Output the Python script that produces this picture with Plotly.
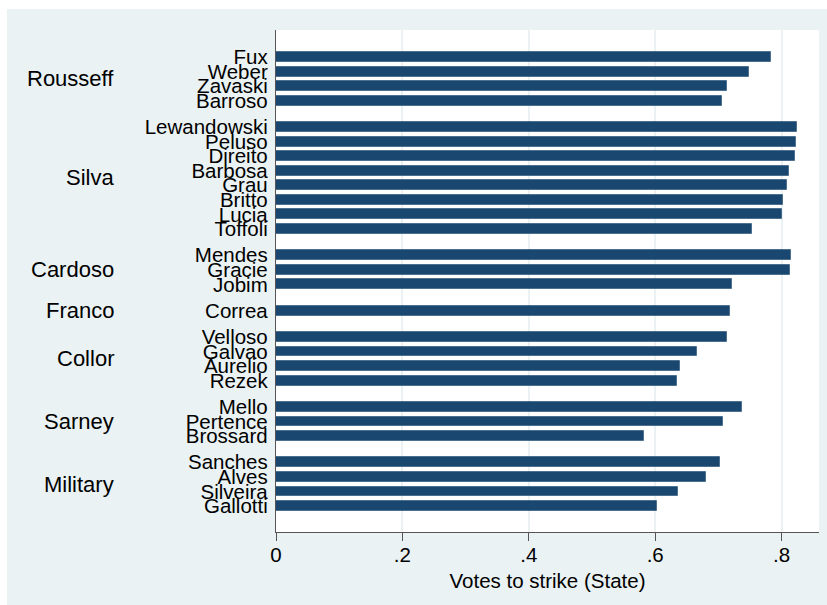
import plotly.graph_objects as go

# ---- data ----
presidents = ["Rousseff", "Rousseff", "Rousseff", "Rousseff",
              "Silva", "Silva", "Silva", "Silva", "Silva", "Silva", "Silva", "Silva",
              "Cardoso", "Cardoso", "Cardoso",
              "Franco",
              "Collor", "Collor", "Collor", "Collor",
              "Sarney", "Sarney", "Sarney",
              "Military", "Military", "Military", "Military"]
justices = ["Fux", "Weber", "Zavaski", "Barroso",
            "Lewandowski", "Peluso", "Direito", "Barbosa", "Grau", "Britto", "Lucia", "Toffoli",
            "Mendes", "Gracie", "Jobim",
            "Correa",
            "Velloso", "Galvao", "Aurelio", "Rezek",
            "Mello", "Pertence", "Brossard",
            "Sanches", "Alves", "Silveira", "Gallotti"]
votes_state = [0.784, 0.748, 0.713, 0.706,
               0.825, 0.822, 0.821, 0.811, 0.808, 0.802, 0.800, 0.753,
               0.815, 0.814, 0.722,
               0.719,
               0.714, 0.666, 0.640, 0.634,
               0.738, 0.707, 0.583,
               0.702, 0.680, 0.636, 0.603]
x_ticks = [0, 0.2, 0.4, 0.6, 0.8]
x_tick_labels = ["0", ".2", ".4", ".6", ".8"]
x_title = "Votes to strike (State)"

# ---- category positions (grouped, with a gap between groups) ----
GROUP_GAP = 1.8
pos = []
p = 0.0
for i, g in enumerate(presidents):
    if i > 0:
        p += 1.0 if presidents[i - 1] == g else GROUP_GAP
    pos.append(p)

group_order = []
for g in presidents:
    if g not in group_order:
        group_order.append(g)
group_centers = {}
for g in group_order:
    ps = [pp for pp, gg in zip(pos, presidents) if gg == g]
    group_centers[g] = (min(ps) + max(ps)) / 2

BG = "#EAF2F3"
BAR = "#1A476F"
FONT = "Liberation Sans, Arial, Helvetica, sans-serif"

fig = go.Figure()
fig.add_trace(go.Bar(
    x=votes_state, y=pos, orientation="h", width=0.68,
    marker=dict(color=BAR, line=dict(color="rgba(26,71,111,0.55)", width=1)),
    hoverinfo="x+text", text=justices, textposition="none",
))

W, H = 827, 605
L, R, T, B = 276, 8, 30, 73
pw = W - L - R
ph = H - T - B

for g in group_order:
    fig.add_annotation(
        x=(116 - L) / pw, xref="paper", xanchor="right",
        y=group_centers[g], yref="y", yanchor="middle",
        text=g, showarrow=False,
        font=dict(family=FONT, size=22, color="black"),
    )

# white margin strips outside the light background
fig.add_shape(type="rect", xref="paper", yref="paper",
              x0=-L / pw - 0.01, x1=(7 - L) / pw, y0=-B / ph - 0.01, y1=1 + T / ph + 0.01,
              fillcolor="white", line=dict(width=0), layer="above")
fig.add_shape(type="rect", xref="paper", yref="paper",
              x0=-L / pw - 0.01, x1=1 + R / pw + 0.01, y0=1 + (T - 9) / ph, y1=1 + T / ph + 0.01,
              fillcolor="white", line=dict(width=0), layer="above")

bottom = pos[-1] + 1.78
top = -1.85
fig.update_layout(
    width=W, height=H,
    margin=dict(l=L, r=R, t=T, b=B, pad=0),
    paper_bgcolor=BG, plot_bgcolor="white",
    showlegend=False, bargap=0,
    font=dict(family=FONT, color="black"),
    xaxis=dict(
        range=[0, (W - R - L) / 632.0],
        tickvals=x_ticks, ticktext=x_tick_labels,
        tickfont=dict(size=20.5, color="black"),
        ticks="outside", ticklen=8, tickwidth=1.3, tickcolor="#555555",
        ticklabelstandoff=-4,
        showline=True, linecolor="#555555", linewidth=1.3,
        showgrid=True, gridcolor=BG, gridwidth=1.5,
        zeroline=False,
        title=dict(text=x_title, font=dict(size=20.5, color="black"), standoff=8),
    ),
    yaxis=dict(
        range=[bottom, top],
        tickvals=pos, ticktext=justices,
        tickfont=dict(size=20.5, color="black"),
        ticks="outside", ticklen=3, tickcolor="rgba(0,0,0,0)",
        showline=True, linecolor="#555555", linewidth=1.3,
        showgrid=False, zeroline=False,
    ),
)

fig.write_html("out.html")
